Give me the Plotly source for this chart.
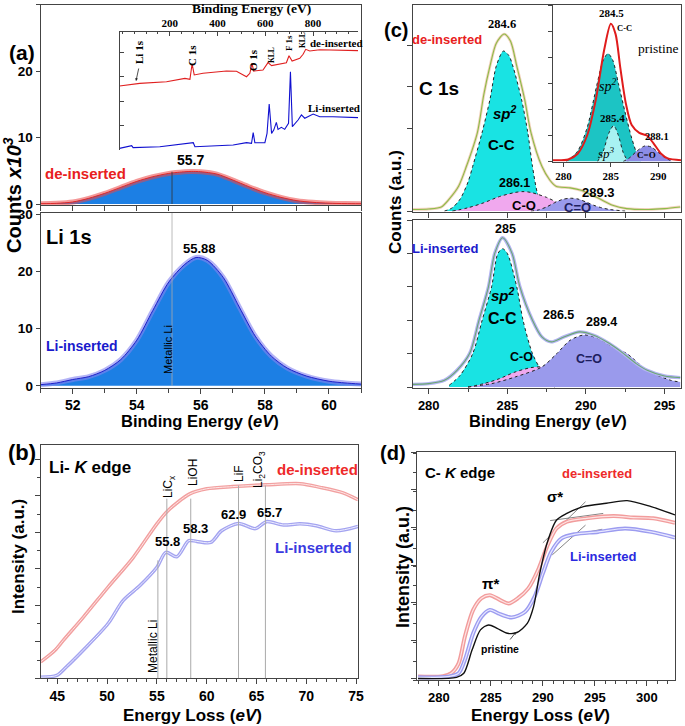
import plotly.graph_objects as go

W, H = 685, 726
SANS = "Liberation Sans, Arial, sans-serif"
SERIF = "Liberation Serif, Times New Roman, serif"

# ---------------- (a) Li 1s XPS ----------------
li1s_be_de = [51.0, 51.5, 52.0, 52.5, 53.0, 53.5, 54.0, 54.5, 55.0, 55.5, 55.7, 56.0, 56.5, 57.0, 57.5, 58.0, 58.5, 59.0, 59.5, 60.0, 60.5, 61.0]
li1s_cnt_de = [0.05, 0.1, 0.3, 0.85, 1.6, 2.5, 3.4, 4.1, 4.6, 4.85, 4.9, 4.85, 4.5, 3.6, 2.6, 1.7, 1.0, 0.5, 0.25, 0.12, 0.06, 0.04]
li1s_be_li = [51.0, 51.5, 52.0, 52.5, 53.0, 53.5, 54.0, 54.5, 55.0, 55.5, 55.85, 56.2, 56.7, 57.2, 57.7, 58.2, 58.7, 59.3, 60.0, 60.5, 61.0]
li1s_cnt_li = [0.2, 0.5, 1.1, 1.6, 2.7, 4.6, 8.0, 13.2, 18.2, 21.3, 22.5, 22.0, 19.0, 13.8, 8.7, 5.2, 3.1, 1.7, 0.8, 0.5, 0.3]
metallic_li = 55.1

# survey inset
survey_be_de = [-11, 74, 186, 263, 284, 293, 302, 339, 437, 479, 521, 535, 544, 551, 590, 611, 626, 667, 688, 699, 712, 744, 758, 769, 786, 828, 988]
survey_de = [54.2, 56.5, 57.9, 60.7, 59.9, 72.9, 63.6, 65, 66.9, 66.7, 62.1, 65, 73.4, 66.9, 67.8, 74, 71.5, 72.9, 74, 79.9, 75.4, 77.7, 81.1, 85.3, 83.9, 85, 84.2]
survey_be_li = [-11, 40, 46, 158, 298, 305, 465, 521, 542, 549, 556, 598, 607, 616, 626, 635, 646, 653, 667, 681, 697, 705, 713, 737, 751, 765, 800, 828, 883, 988]
survey_li = [1.4, 3.7, 2.0, 2.8, 6.2, 2.8, 4.2, 6.2, 5.6, 14.7, 6.2, 6.2, 14.1, 39, 14.1, 16.9, 23.4, 17.5, 19.2, 17.5, 22.6, 66.4, 19.8, 25.4, 29.7, 26.9, 30.5, 28.2, 28.2, 27.4]
survey_ticks = [200, 400, 600, 800]

# ---------------- (c) C 1s XPS ----------------
c1s_de_env_x = [279.0, 280.0, 280.8, 281.3, 281.9, 282.4, 283.1, 283.5, 283.9, 284.3, 284.8, 285.2, 285.6, 286.1, 286.5, 287.2, 287.7, 288.1, 289.0, 289.7, 290.3, 290.9, 291.7, 292.6, 294.0, 295.0, 296.0]
c1s_de_env_y = [0.04, 0.05, 0.1, 0.29, 0.6, 1.08, 1.9, 2.8, 3.5, 4.05, 4.27, 4.1, 3.5, 2.7, 1.9, 1.08, 0.75, 0.6, 0.56, 0.5, 0.4, 0.29, 0.14, 0.06, 0.04, 0.06, 0.1]
c1s_de_cc_x = [281.0, 281.5, 282.0, 282.5, 282.8, 283.4, 283.9, 284.3, 284.75, 285.1, 285.35, 285.9, 286.3, 286.6, 286.9, 287.2, 287.4]
c1s_de_cc_y = [0.0, 0.08, 0.29, 0.7, 1.08, 1.9, 2.7, 3.5, 3.86, 3.75, 3.5, 2.7, 1.9, 1.08, 0.45, 0.1, 0.0]
c1s_de_co_x = [281.5, 282.5, 283.5, 284.5, 285.5, 286.0, 286.5, 287.5, 288.5, 289.5, 290.0]
c1s_de_co_y = [0.0, 0.08, 0.2, 0.35, 0.45, 0.47, 0.45, 0.33, 0.15, 0.03, 0.0]
c1s_de_cdo_x = [286.5, 287.0, 287.5, 288.0, 288.5, 289.0, 289.5, 290.0, 290.5, 291.0, 291.5, 292.5]
c1s_de_cdo_y = [0.0, 0.03, 0.1, 0.2, 0.28, 0.31, 0.29, 0.22, 0.14, 0.08, 0.04, 0.0]

c1s_li_env_x = [279.0, 280.0, 281.0, 281.8, 282.6, 283.2, 283.8, 284.2, 284.7, 285.3, 285.8, 286.6, 287.2, 287.8, 288.6, 289.6, 290.5, 291.5, 292.4, 293.2, 293.9, 295.0, 296.0]
c1s_li_env_y = [0.08, 0.1, 0.2, 0.5, 1.0, 2.0, 3.0, 4.0, 4.47, 4.0, 3.0, 2.0, 1.5, 1.35, 1.5, 1.65, 1.55, 1.3, 1.0, 0.7, 0.5, 0.33, 0.28]
c1s_li_cc_x = [281.3, 282.0, 282.8, 283.4, 284.0, 284.4, 284.7, 285.0, 285.6, 286.0, 286.6, 287.2, 287.6, 288.0]
c1s_li_cc_y = [0.05, 0.35, 1.0, 2.0, 3.0, 4.0, 4.14, 4.0, 3.0, 2.0, 1.0, 0.45, 0.15, 0.0]
c1s_li_co_x = [282.5, 283.5, 284.5, 285.5, 286.5, 287.2, 288.0, 289.0, 290.0, 291.0]
c1s_li_co_y = [0.0, 0.1, 0.25, 0.45, 0.58, 0.6, 0.5, 0.3, 0.12, 0.03]
c1s_li_cdo_x = [282.5, 284.0, 285.5, 287.2, 288.15, 289.0, 289.9, 290.8, 291.7, 292.6, 293.9, 295.4, 296.0]
c1s_li_cdo_y = [0.0, 0.1, 0.3, 0.6, 1.0, 1.4, 1.56, 1.45, 1.2, 1.0, 0.5, 0.2, 0.15]

# pristine inset
pr_env_x = [278.9, 280.5, 281.5, 282.5, 283.4, 284.3, 285.0, 285.5, 286.0, 286.6, 287.2, 288.0, 288.8, 289.5, 290.3, 291.0, 292.4]
pr_env_y = [0.05, 0.08, 0.3, 1.0, 2.35, 4.3, 5.3, 4.9, 3.6, 2.2, 1.4, 1.1, 1.0, 0.7, 0.3, 0.12, 0.05]
pr_sp2_x = [280.3, 281.5, 282.5, 283.5, 284.2, 284.7, 285.2, 285.8, 286.5, 287.2, 287.8, 288.2]
pr_sp2_y = [0.0, 0.4, 1.3, 2.9, 3.9, 4.15, 3.9, 3.0, 1.9, 0.9, 0.25, 0.0]
pr_sp3_x = [283.6, 284.2, 284.8, 285.3, 285.8, 286.3, 286.8]
pr_sp3_y = [0.0, 0.4, 1.1, 1.38, 1.0, 0.35, 0.0]
pr_cdo_x = [286.3, 287.0, 287.8, 288.6, 289.3, 290.0, 290.7, 291.4]
pr_cdo_y = [0.0, 0.15, 0.42, 0.6, 0.55, 0.35, 0.15, 0.02]

# ---------------- (b) Li K edge EELS ----------------
lik_de_x = [43.33, 44.77, 45.6, 47.6, 50.1, 52.6, 55.0, 56.1, 58.3, 60.0, 62.6, 66.0, 69.4, 71.4, 73.7, 75.2]
lik_de_y = [0.45, 0.77, 1.04, 1.67, 2.5, 3.3, 4.23, 4.59, 5.05, 5.19, 5.25, 5.30, 5.33, 5.23, 5.08, 4.89]
lik_li_x = [43.33, 44.94, 45.9, 47.6, 50.1, 51.6, 53.3, 55.0, 55.9, 57.0, 58.2, 59.0, 60.4, 61.5, 63.2, 64.9, 66.0, 67.7, 69.4, 71.0, 73.0, 75.2]
lik_li_y = [0.03, 0.08, 0.31, 0.77, 1.5, 2.13, 2.54, 3.04, 3.45, 3.33, 3.77, 3.75, 3.72, 4.04, 4.24, 4.1, 4.29, 4.2, 4.23, 4.18, 4.04, 4.16]
lik_ref_pos = [55.1, 56.0, 58.4, 63.2, 65.9]
lik_ref_top = [3.23, 4.92, 4.92, 5.28, 5.28]

# ---------------- (d) C K edge EELS ----------------
ck_de_x = [278.0, 280.4, 281.2, 281.9, 282.5, 283.3, 284.1, 284.9, 285.9, 286.7, 287.6, 288.6, 289.6, 290.4, 291.3, 292.3, 294.2, 296.8, 298.7, 300.6, 302.7]
ck_de_y = [0.09, 0.1, 0.18, 0.44, 1.15, 1.86, 2.17, 2.25, 2.12, 2.03, 2.17, 2.43, 2.96, 3.54, 4.02, 4.2, 4.29, 4.35, 4.31, 4.29, 4.17]
ck_li_x = [278.0, 280.9, 281.9, 282.5, 283.3, 284.1, 284.9, 285.7, 287.0, 288.3, 289.2, 290.0, 290.8, 291.8, 293.1, 295.3, 297.9, 300.4, 302.7]
ck_li_y = [0.07, 0.09, 0.18, 0.53, 1.24, 1.68, 1.86, 1.77, 1.66, 1.81, 2.21, 2.83, 3.4, 3.76, 3.87, 3.93, 4.02, 3.93, 3.78]
ck_pr_x = [278.0, 281.7, 282.4, 283.2, 284.0, 284.8, 285.6, 286.6, 287.5, 288.5, 289.1, 289.7, 290.4, 291.3, 292.3, 293.9, 296.1, 298.1, 300.4, 302.7]
ck_pr_y = [0.04, 0.07, 0.18, 0.8, 1.33, 1.46, 1.37, 1.24, 1.26, 1.5, 1.94, 2.83, 3.63, 4.24, 4.42, 4.6, 4.69, 4.76, 4.6, 4.38]
ck_tan_x = [[290.0, 294.1], [290.7, 295.8], [290.9, 294.1], [291.7, 295.7]]
ck_tan_y = [[3.64, 4.73], [4.23, 4.42], [3.32, 4.11], [3.78, 4.0]]


def xd(a, b):
    return [a / W, b / W]


def yd(top, bottom):
    return [1 - bottom / H, 1 - top / H]


def axis(dom, rng, **kw):
    d = dict(domain=dom, range=rng, showgrid=False, zeroline=False, showline=True, automargin=False,
             linecolor="#444", linewidth=1.2, ticks="outside", ticklen=5, tickcolor="#444",
             tickfont=dict(family=SANS, size=14, color="black", weight="bold"))
    d.update(kw)
    return d


def txt(s, px, py, size=14, color="black", bold=True, angle=0, family=SANS, xanchor="center", italic=False):
    return dict(text=s, x=px / W, y=1 - py / H, xref="paper", yref="paper", showarrow=False,
                textangle=angle, xanchor=xanchor, yanchor="middle",
                font=dict(family=family, size=size, color=color,
                          weight="bold" if bold else "normal", style="italic" if italic else "normal"))


fig = go.Figure()


def line(x, y, ax, color, width=1.5, fill=None, fillcolor=None, dash=None, shape="spline"):
    fig.add_trace(go.Scatter(x=x, y=y, xaxis="x" + ax, yaxis="y" + ax, mode="lines",
                             line=dict(color=color, width=width, dash=dash, shape=shape, smoothing=0.8),
                             fill=fill, fillcolor=fillcolor, hoverinfo="skip", showlegend=False))


# (a) top: de-inserted
line(li1s_be_de, li1s_cnt_de, "", "rgba(235,70,70,0.55)", 5, "tozeroy", "#1c7fe4")
line(li1s_be_de, li1s_cnt_de, "", "#e02828", 1)
# (a) bottom: Li-inserted
line(li1s_be_li, li1s_cnt_li, "2", "rgba(130,130,240,0.6)", 5, "tozeroy", "#1c7fe4")
line(li1s_be_li, li1s_cnt_li, "2", "#2020c8", 1)
# (a) inset survey
line(survey_be_de, survey_de, "3", "#e02020", 1.1, shape="linear")
line(survey_be_li, survey_li, "3", "#1010d0", 1.1, shape="linear")

# (c) top de-inserted
line(c1s_de_cc_x, c1s_de_cc_y, "4", "#222", 1, "tozeroy", "#19e3e3", "dot")
line(c1s_de_co_x, c1s_de_co_y, "4", "#222", 1, "tozeroy", "#f0a8ee", "dot")
line(c1s_de_cdo_x, c1s_de_cdo_y, "4", "#222", 1, "tozeroy", "#9a9aec", "dot")
line(c1s_de_env_x, c1s_de_env_y, "4", "#f2d2bc", 2.8)
line(c1s_de_env_x, c1s_de_env_y, "4", "#8cbc48", 1.1)
# (c) bottom Li-inserted
line(c1s_li_cc_x, c1s_li_cc_y, "5", "#222", 1, "tozeroy", "#19e3e3", "dot")
line(c1s_li_co_x, c1s_li_co_y, "5", "#222", 1, "tozeroy", "#f0a8ee", "dot")
line(c1s_li_cdo_x, c1s_li_cdo_y, "5", "#222", 1, "tozeroy", "#9a9aec", "dot")
line(c1s_li_env_x, c1s_li_env_y, "5", "#b4b4f2", 3.4)
line(c1s_li_env_x, c1s_li_env_y, "5", "#6aa872", 1.1)
# (c) inset pristine
line(pr_sp2_x, pr_sp2_y, "6", "#222", 1, "tozeroy", "#1cc4c4", "dot")
line(pr_sp3_x, pr_sp3_y, "6", "#222", 1, "tozeroy", "#a8f2f2", "dot")
line(pr_cdo_x, pr_cdo_y, "6", "#222", 1, "tozeroy", "#8c8ce6", "dot")
line(pr_env_x, pr_env_y, "6", "#e01c1c", 2)

# (b) Li K edge
line(lik_de_x, lik_de_y, "7", "#f2a0a0", 3.5)
line(lik_de_x, lik_de_y, "7", "#fde6e6", 1)
line(lik_li_x, lik_li_y, "7", "#a4a4f0", 3.5)
line(lik_li_x, lik_li_y, "7", "#eeeeff", 1)

# (d) C K edge
for tx, ty in zip(ck_tan_x, ck_tan_y):
    line(tx, ty, "8", "#666", 0.8, shape="linear")
line(ck_de_x, ck_de_y, "8", "#f29c9c", 4)
line(ck_de_x, ck_de_y, "8", "#fde4e4", 1.2)
line(ck_li_x, ck_li_y, "8", "#9c9cf0", 4)
line(ck_li_x, ck_li_y, "8", "#e8e8ff", 1.2)
line(ck_pr_x, ck_pr_y, "8", "#111", 1.4)

noticks = dict(showticklabels=False)
layout = dict(
    width=W, height=H, margin=dict(l=0, r=0, t=0, b=0, autoexpand=False),
    paper_bgcolor="white", plot_bgcolor="rgba(0,0,0,0)", showlegend=False,
    # (a) top
    xaxis=axis(xd(40.7, 361), [51, 61], anchor="y", dtick=1, mirror=True, **noticks),
    yaxis=axis(yd(4.5, 205), [-0.15, 30], anchor="x", tickvals=[0, 10, 20, 30], mirror=True, ticklen=4,
               tickfont=dict(family=SANS, size=13.5, color="black", weight="bold")),
    # (a) bottom
    xaxis2=axis(xd(40.7, 361), [51, 61], anchor="y2", dtick=2, tick0=52, mirror=True,
                minor=dict(dtick=1, ticks="outside", ticklen=4, tickcolor="#444")),
    yaxis2=axis(yd(213, 387.5), [-0.3, 30.3], anchor="x2", tickvals=[0, 10, 20, 30], mirror=True, ticklen=4,
                tickfont=dict(family=SANS, size=13.5, color="black", weight="bold")),
    # (a) inset
    xaxis3=axis(xd(119.5, 358), [-11, 988], anchor="y3", side="top", tickvals=survey_ticks, ticks="inside",
                ticklen=4, tickfont=dict(family=SERIF, size=11, color="black", weight="bold"),
                minor=dict(dtick=50, ticks="inside", ticklen=2, tickcolor="#444")),
    yaxis3=axis(yd(32, 150), [0, 100], anchor="x3", ticks="inside", ticklen=4, dtick=20.5, tick0=0.5, **noticks),
    # (c) top
    xaxis4=axis(xd(413, 681), [279, 296.05], anchor="y4", dtick=2.5, tick0=280, mirror=True, **noticks),
    yaxis4=axis(yd(5, 211.5), [-0.01, 4.97], anchor="x4", dtick=1, mirror=True, **noticks),
    # (c) bottom
    xaxis5=axis(xd(413, 681), [279, 296.05], anchor="y5", dtick=5, tick0=280, mirror=True,
                tickfont=dict(family=SANS, size=13, color="black", weight="bold"),
                minor=dict(dtick=2.5, ticks="outside", ticklen=3, tickcolor="#444")),
    yaxis5=axis(yd(220, 388), [-0.03, 5.0], anchor="x5", dtick=1, mirror=True, **noticks),
    # (c) inset
    xaxis6=axis(xd(553, 681), [278.9, 292.4], anchor="y6", dtick=5, tick0=280, mirror=True, ticklen=4,
                tickfont=dict(family=SERIF, size=11, color="black", weight="bold")),
    yaxis6=axis(yd(5, 161.5), [0, 6.02], anchor="x6", dtick=1, mirror=True, ticklen=4, **noticks),
    # (b)
    xaxis7=axis(xd(40.7, 358), [43.33, 75.2], anchor="y7", dtick=5, tick0=45, mirror=True,
                minor=dict(dtick=1, ticks="outside", ticklen=3, tickcolor="#444")),
    yaxis7=axis(yd(445, 678.3), [0, 6.39], anchor="x7", dtick=1, mirror=True,
                minor=dict(dtick=0.5, ticks="outside", ticklen=3, tickcolor="#444"), **noticks),
    # (d)
    xaxis8=axis(xd(417, 675), [277.9, 302.7], anchor="y8", dtick=5, tick0=280, mirror=True,
                tickfont=dict(family=SANS, size=13, color="black", weight="bold"),
                minor=dict(dtick=1, ticks="outside", ticklen=3, tickcolor="#444")),
    yaxis8=axis(yd(452, 680), [0, 6.05], anchor="x8", dtick=1, tick0=0.05, mirror=True,
                minor=dict(dtick=0.5, ticks="outside", ticklen=3, tickcolor="#444"), **noticks),
)
fig.update_layout(**layout)

# reference lines
fig.add_shape(type="line", xref="x", yref="y", x0=metallic_li, x1=metallic_li, y0=0, y1=4.85,
              line=dict(color="#333", width=0.8))
fig.add_shape(type="line", xref="x2", yref="y2", x0=metallic_li, x1=metallic_li, y0=0, y1=30.3,
              line=dict(color="#aaa", width=0.8))
for xv, top in zip(lik_ref_pos, lik_ref_top):
    fig.add_shape(type="line", xref="x7", yref="y7", x0=xv, x1=xv, y0=0, y1=top,
                  line=dict(color="#aaa", width=1))

ann = [
    # (a)
    txt("(a)", 22, 52, 21),
    txt("Binding Energy (eV)", 251, 9, 13.5, family=SERIF),
    txt("Li 1s", 139, 52, 11, family=SERIF, angle=-90),
    txt("C 1s", 192, 56, 11, family=SERIF, angle=-90),
    txt("O 1s", 253, 60, 11, family=SERIF, angle=-90),
    txt("KLL", 271, 55, 7.5, family=SERIF, angle=-90),
    txt("F 1s", 289, 43, 9, family=SERIF, angle=-90),
    txt("KLL", 302, 40, 7.5, family=SERIF, angle=-90),
    txt("de-inserted", 336, 43, 11, family=SERIF),
    txt("Li-inserted", 334, 108, 11, family=SERIF),
    txt("55.7", 190, 160, 14),
    txt("de-inserted", 85, 174, 15, "#e82020"),
    txt("Li 1s", 69, 237, 20),
    txt("55.88", 200, 248, 13),
    txt("Li-inserted", 82, 346, 14, "#1a1acc"),
    txt("Metallic Li", 168, 350, 11, bold=False, angle=-90),
    txt("Counts <i>x10<sup>3</sup></i>", 12, 195, 20, angle=-90),
    txt("Binding Energy (<i>eV</i>)", 200, 421, 16.5),
    # (c)
    txt("(c)", 396, 30, 20),
    txt("de-inserted", 447, 39, 13, "#e82020"),
    txt("284.6", 502, 24, 12.5, family=SERIF),
    txt("C 1s", 439, 88, 19),
    txt("sp<sup>2</sup>", 505, 112, 15, italic=True),
    txt("C-C", 501, 145, 15),
    txt("286.1", 514, 183, 12.5),
    txt("C-O", 524, 206, 13),
    txt("289.3", 598, 192, 13),
    txt("C=O", 577, 207, 13, "#1e1e5e"),
    txt("Li-inserted", 445, 248, 13, "#1a1acc"),
    txt("285", 505, 229, 12.5),
    txt("sp<sup>2</sup>", 503, 294, 15, italic=True),
    txt("C-C", 502, 318, 16),
    txt("286.5", 558, 315, 12.5),
    txt("289.4", 601, 322, 12.5),
    txt("C-O", 521, 357, 12.5),
    txt("C=O", 589, 359, 12.5, "#1e1e5e"),
    txt("Counts (a.u.)", 395, 202, 17, angle=-90),
    txt("Binding Energy (<i>eV</i>)", 548, 421, 16.5),
    # (c) inset
    txt("284.5", 611, 13, 11, family=SERIF),
    txt("C-C", 624, 28, 8.5, family=SERIF),
    txt("pristine", 658, 49, 13.5, bold=False, family=SERIF),
    txt("sp<sup>2</sup>", 607, 85, 14, bold=False, italic=True, family=SERIF),
    txt("285.4", 612, 118, 11, family=SERIF),
    txt("sp<sup>3</sup>", 606, 153, 13, bold=False, italic=True, family=SERIF),
    txt("288.1", 657, 136, 10.5, family=SERIF),
    txt("C=O", 646, 155, 9, family=SERIF),
    # (b)
    txt("(b)", 22, 452, 22),
    txt("Li- <i>K</i> edge", 47, 467, 17, xanchor="left"),
    txt("de-inserted", 317, 469, 15, "#ee2a2a"),
    txt("Li-inserted", 313, 547, 15, "#3a3ae0"),
    txt("Metallic Li", 153, 647, 12, bold=False, angle=-90),
    txt("LiC<sub>x</sub>", 169, 487, 12, bold=False, angle=-90),
    txt("LiOH", 193, 473, 12, bold=False, angle=-90),
    txt("LiF", 239, 473, 12, bold=False, angle=-90),
    txt("Li<sub>2</sub>CO<sub>3</sub>", 259, 470, 12, bold=False, angle=-90),
    txt("55.8", 167, 541, 13),
    txt("58.3", 195, 528, 13),
    txt("62.9", 233, 514, 13),
    txt("65.7", 269, 512, 13),
    txt("Intensity (a.u.)", 18, 557, 17, angle=-90),
    txt("Energy Loss (<i>eV</i>)", 192, 715, 17),
    # (d)
    txt("(d)", 393, 453, 20),
    txt("C- <i>K</i> edge", 423, 472, 15, xanchor="left"),
    txt("de-inserted", 597, 473, 13, "#ee2a2a"),
    txt("σ*", 555, 496, 15),
    txt("Li-inserted", 603, 556, 13, "#2a2ae0"),
    txt("π*", 490, 583, 15),
    txt("pristine", 500, 649, 10.5),
    txt("Intensity (a.u.)", 403, 567, 18, angle=-90),
    txt("Energy Loss (<i>eV</i>)", 540, 715, 17),
]
# small arrows
ann.append(dict(x=136 / W, y=1 - 81 / H, xref="paper", yref="paper", ax=3, ay=-14, text="",
                showarrow=True, arrowhead=2, arrowsize=0.7, arrowwidth=0.8, arrowcolor="#222"))
ann.append(dict(x=516 / W, y=1 - 632 / H, xref="paper", yref="paper", ax=-7, ay=9, text="",
                showarrow=True, arrowhead=2, arrowsize=0.7, arrowwidth=0.8, arrowcolor="#222"))
fig.update_layout(annotations=ann)

# drop the default page margin so the figure sits at the window's top-left corner
fig.write_html("out.html", config={"displayModeBar": False},
               post_script="document.body.style.margin='0';document.body.style.overflow='hidden';")
